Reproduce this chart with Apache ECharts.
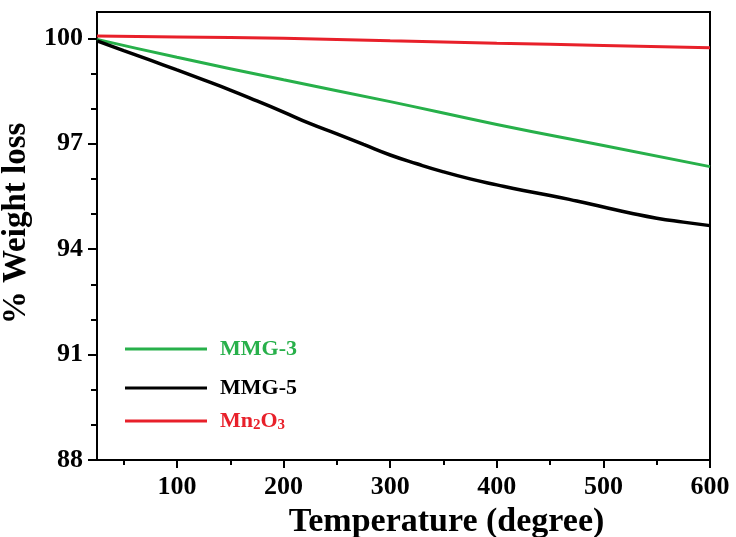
<!DOCTYPE html>
<html>
<head>
<meta charset="utf-8">
<script src="https://cdn.jsdelivr.net/npm/echarts@6/dist/echarts.min.js"></script>
<style>
  html, body { margin: 0; padding: 0; background: #fff; }
  #chart { width: 736px; height: 537px; }
</style>
</head>
<body>
<div id="chart"></div>
<script>
// temperature (degree) and weight (%)
var tempBlack = [25, 50, 75, 100, 125, 150, 175, 200, 225, 250, 275, 300, 325, 350, 375, 400, 425, 450, 475, 500, 525, 550, 575, 600];
var mmg5 = [99.93, 99.65, 99.38, 99.1, 98.82, 98.53, 98.22, 97.9, 97.57, 97.28, 96.98, 96.68, 96.43, 96.2, 96.0, 95.83, 95.67, 95.53, 95.37, 95.2, 95.03, 94.88, 94.77, 94.67];
var tempLin = [25, 100, 200, 300, 400, 500, 600];
var mmg3 = [99.97, 99.46, 98.82, 98.2, 97.55, 96.95, 96.35];
var mn2o3 = [100.07, 100.04, 100.0, 99.93, 99.86, 99.8, 99.73];

var xMajor = [100, 200, 300, 400, 500, 600];
var xMinor = [50, 150, 250, 350, 450, 550];
var yMajor = [88, 91, 94, 97, 100];
var yMinor = [89, 90, 92, 93, 95, 96, 98, 99];

var GREEN = '#27b04a', RED = '#e8202a', BLACK = '#000';
var FONT = 'Liberation Serif';

function pairs(xs, ys) {
    return xs.map(function (x, i) { return [x, ys[i]]; });
}

var chart = echarts.init(document.getElementById('chart'));

function oneLegend(name, top, color, formatter) {
    return {
        data: [name],
        orient: 'vertical',
        left: 120,
        top: top,
        icon: 'rect',
        itemWidth: 82,
        itemHeight: 3,
        formatter: formatter,
        textStyle: {
            fontFamily: FONT, fontWeight: 'bold', fontSize: 22, color: color,
            lineHeight: 24, padding: [0, 0, 0, 8],
            rich: {
                b: { fontFamily: FONT, fontWeight: 'bold', fontSize: 22, color: color, lineHeight: 24 },
                s: { fontFamily: FONT, fontWeight: 'bold', fontSize: 15, color: color, lineHeight: 15, verticalAlign: 'bottom', padding: [8, 0, 0, 0] }
            }
        }
    };
}

var axisText = { fontFamily: FONT, fontWeight: 'bold', fontSize: 26, color: '#000' };

var option = {
    backgroundColor: '#fff',
    animation: false,
    grid: {
        left: 97, right: 26, top: 12, bottom: 77,
        show: true, borderColor: '#000', borderWidth: 2,
        outerBoundsMode: 'none'
    },
    legend: [
        oneLegend('MMG-3', 332, GREEN),
        oneLegend('MMG-5', 371, BLACK),
        oneLegend('Mn2O3', 404, RED, function () { return '{b|Mn}{s|2}{b|O}{s|3}'; })
    ],
    xAxis: [{
        type: 'value', min: 25, max: 600, position: 'bottom',
        splitLine: { show: false },
        axisLine: { show: true, lineStyle: { color: '#000', width: 2 } },
        axisTick: { show: true, length: 8, lineStyle: { color: '#000', width: 2 }, customValues: xMajor },
        axisLabel: Object.assign({ margin: 14, customValues: xMajor }, axisText),
        name: 'Temperature (degree)',
        nameLocation: 'middle',
        nameGap: 38,
        nameTextStyle: { fontFamily: FONT, fontWeight: 'bold', fontSize: 34, color: '#000', padding: [0, 0, 0, 86] }
    }, {
        type: 'value', min: 25, max: 600, position: 'bottom', offset: 0,
        splitLine: { show: false },
        axisLine: { show: false },
        axisTick: { show: true, length: 5, lineStyle: { color: '#000', width: 2 }, customValues: xMinor },
        axisLabel: { show: false }
    }],
    yAxis: [{
        type: 'value', min: 88, max: 100.75, position: 'left',
        splitLine: { show: false },
        axisLine: { show: true, lineStyle: { color: '#000', width: 2 } },
        axisTick: { show: true, length: 9, lineStyle: { color: '#000', width: 2 }, customValues: yMajor },
        axisLabel: Object.assign({ margin: 14, customValues: yMajor }, axisText),
        name: '% Weight loss',
        nameLocation: 'middle',
        nameGap: 50,
        nameTextStyle: { fontFamily: FONT, fontWeight: 'bold', fontSize: 33, color: '#000', padding: [0, 0, 0, 25] }
    }, {
        type: 'value', min: 88, max: 100.75, position: 'left', offset: 0,
        splitLine: { show: false },
        axisLine: { show: false },
        axisTick: { show: true, length: 6, lineStyle: { color: '#000', width: 2 }, customValues: yMinor },
        axisLabel: { show: false }
    }],
    series: [{
        name: 'MMG-3', type: 'line', showSymbol: false, symbol: 'none', smooth: true,
        itemStyle: { color: GREEN }, lineStyle: { color: GREEN, width: 3 },
        data: pairs(tempLin, mmg3)
    }, {
        name: 'MMG-5', type: 'line', showSymbol: false, symbol: 'none', smooth: true,
        itemStyle: { color: BLACK }, lineStyle: { color: BLACK, width: 3.5 },
        data: pairs(tempBlack, mmg5)
    }, {
        name: 'Mn2O3', type: 'line', showSymbol: false, symbol: 'none', smooth: true,
        itemStyle: { color: RED }, lineStyle: { color: RED, width: 3 },
        data: pairs(tempLin, mn2o3)
    }]
};

chart.setOption(option);
</script>
</body>
</html>
